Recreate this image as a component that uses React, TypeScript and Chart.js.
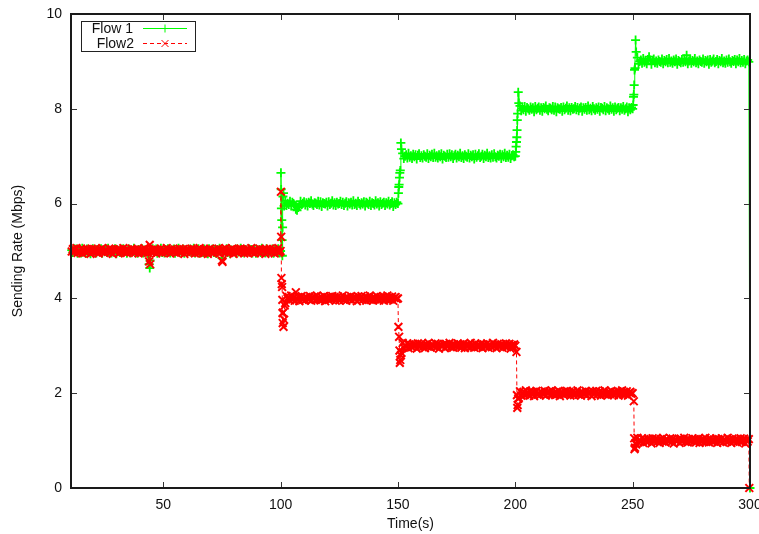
import React, { useEffect, useRef } from "react";
import { Chart, registerables } from "chart.js";
Chart.register(...registerables);

const FONT = "'Liberation Sans', Arial, Helvetica, sans-serif";
const X_MIN = 10.7;
const X_MAX = 300;
const xTickValues = [50, 100, 150, 200, 250, 300];
const yTickValues = [0, 2, 4, 6, 8, 10];
const seriesNames = ["Flow 1", "Flow2"];
const xTitle = "Time(s)";
const yTitle = "Sending Rate (Mbps)";

// Sampling of the rate trace: one sample every 0.5 s, first at t = 11 s
const sampleStart = 11;
const sampleStep = 0.5;

// ---------- Flow 1 (Mbps) ----------
// t = 11.0 .. 99.5
const flow1Seg1 = [
  5.02,4.97,5.05,4.99,5.04,4.95,5.00,5.03,4.96,5.06,
  4.98,5.01,4.95,5.04,4.99,5.03,4.94,5.02,5.05,4.97,
  5.01,4.96,5.03,5.00,4.98,5.05,4.95,5.02,4.99,5.04,
  4.97,5.06,4.98,5.01,4.96,5.03,4.99,5.05,4.94,5.02,
  5.00,4.97,5.04,4.98,5.05,4.99,5.03,4.95,5.01,5.04,
  4.96,5.02,4.99,5.06,4.97,5.01,4.95,5.03,5.00,4.98,
  5.05,4.96,5.02,4.99,5.03,4.94,4.72,4.98,5.01,5.05,
  4.97,5.00,5.04,4.95,5.02,4.99,5.06,4.97,5.01,4.96,
  5.03,4.98,5.05,4.99,4.96,5.02,5.00,5.04,4.95,5.03,
  4.99,5.06,4.97,5.02,4.98,5.04,4.95,5.01,5.03,4.99,
  4.99,5.04,4.97,5.02,5.06,4.96,5.01,4.98,5.05,4.95,
  5.03,5.00,4.97,5.04,4.99,5.02,4.94,5.05,4.98,5.01,
  5.04,4.97,5.02,4.95,5.03,5.00,5.06,4.99,4.85,5.02,
  5.01,4.98,5.05,4.97,5.04,4.94,5.02,5.00,4.99,5.03,
  4.95,5.04,4.98,5.01,5.06,4.97,5.02,4.96,5.03,4.99,
  5.00,5.05,4.98,5.03,4.96,5.01,5.04,4.95,5.02,4.99,
  5.03,4.97,5.06,4.98,5.01,4.96,5.05,5.00,4.97,5.02,
  4.99,5.04,4.95,5.03,5.01,4.98,5.05,4.96,
];
// t = 100.0 .. 149.5
const flow1Seg2 = [
  5.00,5.65,6.15,5.95,6.06,5.96,6.01,5.98,6.05,5.95,
  6.03,6.00,5.97,5.88,5.86,5.92,5.94,6.05,5.98,6.01,
  6.04,5.97,6.02,5.95,6.03,6.00,6.06,5.99,5.96,6.02,
  6.01,5.98,6.05,5.97,6.04,5.94,6.02,6.00,5.99,6.03,
  5.95,6.04,5.98,6.01,6.06,5.97,6.02,5.96,6.03,5.99,
  6.00,6.05,5.98,6.03,5.96,6.01,6.04,5.95,6.02,5.99,
  6.03,5.97,6.06,5.98,6.01,5.96,6.05,6.00,5.97,6.02,
  5.99,6.04,5.95,6.03,6.01,5.98,6.05,5.96,6.02,6.00,
  5.97,6.06,5.99,6.02,5.95,6.04,5.98,6.01,6.03,5.96,
  6.02,5.99,6.05,5.97,6.00,6.04,5.94,6.02,5.98,6.03,
];
// t = 150.0 .. 199.5
const flow1Seg3 = [
  6.00,6.40,6.70,7.15,7.06,6.95,7.00,7.03,6.96,7.06,
  6.98,7.01,6.95,7.04,6.99,7.03,6.94,7.02,7.05,6.97,
  7.01,6.96,7.03,7.00,6.98,7.05,6.95,7.02,6.99,7.04,
  6.97,7.06,6.98,7.01,6.96,7.03,6.99,7.05,6.94,7.02,
  7.00,6.97,7.04,6.98,7.05,6.99,7.03,6.95,7.01,7.04,
  6.96,7.02,6.99,7.06,6.97,7.01,6.95,7.03,7.00,6.98,
  7.05,6.96,7.02,6.99,7.03,6.94,7.04,6.98,7.01,7.05,
  6.97,7.00,7.04,6.95,7.02,6.99,7.06,6.97,7.01,6.96,
  7.03,6.98,7.05,6.99,6.96,7.02,7.00,7.04,6.95,7.03,
  6.99,7.06,6.97,7.02,6.98,7.04,6.95,7.01,7.03,6.99,
];
// t = 200.0 .. 249.5
const flow1Seg4 = [
  7.00,7.30,7.90,8.12,8.06,7.96,8.01,7.98,8.05,7.95,
  8.03,8.00,7.97,8.04,7.99,8.02,7.94,8.05,7.98,8.01,
  8.04,7.97,8.02,7.95,8.03,8.00,8.06,7.99,7.96,8.02,
  8.01,7.98,8.05,7.97,8.04,7.94,8.02,8.00,7.99,8.03,
  7.95,8.04,7.98,8.01,8.06,7.97,8.02,7.96,8.03,7.99,
  8.00,8.05,7.98,8.03,7.96,8.01,8.04,7.95,8.02,7.99,
  8.03,7.97,8.06,7.98,8.01,7.96,8.05,8.00,7.97,8.02,
  7.99,8.04,7.95,8.03,8.01,7.98,8.05,7.96,8.02,8.00,
  7.97,8.06,7.99,8.02,7.95,8.04,7.98,8.01,8.03,7.96,
  8.02,7.99,8.05,7.97,8.00,8.04,7.94,8.02,7.98,8.03,
];
// t = 250.0 .. 299.5
const flow1Seg5 = [
  8.00,8.30,8.86,9.20,9.08,8.95,9.00,9.03,8.96,9.06,
  8.98,9.01,8.95,9.04,9.10,9.03,8.94,9.02,9.05,8.97,
  9.01,8.96,9.03,9.00,8.98,9.05,8.95,9.02,8.99,9.04,
  8.97,9.06,8.98,9.01,8.96,9.03,8.99,9.05,8.94,9.02,
  9.00,8.97,9.04,8.98,9.05,8.99,9.13,8.95,9.01,9.04,
  8.96,9.02,8.99,9.06,8.97,9.01,8.95,9.03,9.00,8.98,
  9.05,8.96,9.02,8.99,9.03,8.94,9.04,8.98,9.01,9.05,
  8.97,9.00,9.04,8.95,9.02,8.99,9.06,8.97,9.01,8.96,
  9.03,8.98,9.05,8.99,8.96,9.02,9.00,9.04,8.95,9.03,
  8.99,9.06,8.97,9.02,8.98,9.04,8.95,9.01,9.03,8.99,
];
// extra samples recorded during the transients
const flow1ExtraTimes = [44.25, 44.4,
  100.15, 100.25, 100.35, 100.65, 100.75, 100.85, 101.25,
  150.2, 150.35, 150.65, 150.8, 151.25,
  200.2, 200.35, 200.65, 200.75, 200.85, 201.25,
  250.2, 250.35, 250.65, 250.8, 251.25,
  300];
const flow1ExtraValues = [4.64, 4.80,
  6.65, 6.30, 5.90, 5.23, 4.90, 5.50, 6.22,
  6.22, 6.35, 6.55, 6.65, 7.28,
  7.09, 7.20, 7.40, 7.55, 7.76, 8.35,
  8.08, 8.25, 8.50, 8.82, 9.45,
  0.00];

// ---------- Flow 2 (Mbps) ----------
const flow2Seg1 = [
  4.99,5.04,4.97,5.02,5.06,4.96,5.01,4.98,5.05,4.95,
  5.03,5.00,4.97,5.04,4.99,5.02,4.94,5.05,4.98,5.01,
  5.04,4.97,5.02,4.95,5.03,5.00,5.06,4.99,4.96,5.02,
  5.01,4.98,5.05,4.97,5.04,4.94,5.02,5.00,4.99,5.03,
  4.95,5.04,4.98,5.01,5.06,4.97,5.02,4.96,5.03,4.99,
  5.00,5.05,4.98,5.03,4.96,5.01,5.04,4.95,5.02,4.99,
  5.03,4.97,5.06,4.98,5.01,4.96,4.78,5.00,4.97,5.02,
  4.99,5.04,4.95,5.03,5.01,4.98,5.05,4.96,5.02,5.00,
  4.97,5.06,4.99,5.02,4.95,5.04,4.98,5.01,5.03,4.96,
  5.02,4.99,5.05,4.97,5.00,5.04,4.94,5.02,4.98,5.03,
  5.02,4.97,5.05,4.99,5.04,4.95,5.00,5.03,4.96,5.06,
  4.98,5.01,4.95,5.04,4.99,5.03,4.94,5.02,5.05,4.97,
  5.01,4.96,5.03,5.00,4.98,5.05,4.95,5.02,4.80,5.04,
  4.97,5.06,4.98,5.01,4.96,5.03,4.99,5.05,4.94,5.02,
  5.00,4.97,5.04,4.98,5.05,4.99,5.03,4.95,5.01,5.04,
  4.96,5.02,4.99,5.06,4.97,5.01,4.95,5.03,5.00,4.98,
  5.05,4.96,5.02,4.99,5.03,4.94,5.04,4.98,5.01,5.05,
  4.97,5.00,5.04,4.95,5.02,4.99,5.06,4.97,
];
const flow2Seg2 = [
  5.00,4.30,3.70,3.55,3.90,4.05,4.00,4.03,3.96,4.06,
  3.98,4.01,3.95,4.13,3.99,4.03,3.94,4.02,4.05,3.97,
  4.01,3.96,4.03,4.00,3.98,4.05,3.95,4.02,3.99,4.04,
  3.97,4.06,3.98,4.01,3.96,4.03,3.99,4.05,3.94,4.02,
  4.00,3.97,4.04,3.98,4.05,3.99,4.03,3.95,4.01,4.04,
  3.96,4.02,3.99,4.06,3.97,4.01,3.95,4.03,4.00,3.98,
  4.05,3.96,4.02,3.99,4.03,3.94,4.04,3.98,4.01,4.05,
  3.97,4.00,4.04,3.95,4.02,3.99,4.06,3.97,4.01,3.96,
  4.03,3.98,4.05,3.99,3.96,4.02,4.00,4.04,3.95,4.03,
  3.99,4.06,3.97,4.02,3.98,4.04,3.95,4.01,4.03,3.99,
];
const flow2Seg3 = [
  4.00,3.19,2.70,2.85,3.06,2.96,3.01,2.98,3.05,2.95,
  3.03,3.00,2.97,3.04,2.99,3.02,2.94,3.05,2.98,3.01,
  3.04,2.97,3.02,2.95,3.03,3.00,3.06,2.99,2.96,3.02,
  3.01,2.98,3.05,2.97,3.04,2.94,3.02,3.00,2.99,3.03,
  2.95,3.04,2.98,3.01,3.06,2.97,3.02,2.96,3.03,2.99,
  3.00,3.05,2.98,3.03,2.96,3.01,3.04,2.95,3.02,2.99,
  3.03,2.97,3.06,2.98,3.01,2.96,3.05,3.00,2.97,3.02,
  2.99,3.04,2.95,3.03,3.01,2.98,3.05,2.96,3.02,3.00,
  2.97,3.06,2.99,3.02,2.95,3.04,2.98,3.01,3.03,2.96,
  3.02,2.99,3.05,2.97,3.00,3.04,2.94,3.02,2.98,3.03,
];
const flow2Seg4 = [
  3.00,2.87,1.75,1.90,2.04,1.95,2.00,2.03,1.96,2.06,
  1.98,2.01,1.95,2.04,1.99,2.03,1.94,2.02,2.05,1.97,
  2.01,1.96,2.03,2.00,1.98,2.05,1.95,2.02,1.99,2.04,
  1.97,2.06,1.98,2.01,1.96,2.03,1.99,2.05,1.94,2.02,
  2.00,1.97,2.04,1.98,2.05,1.99,2.03,1.95,2.01,2.04,
  1.96,2.02,1.99,2.06,1.97,2.01,1.95,2.03,2.00,1.98,
  2.05,1.96,2.02,1.99,2.03,1.94,2.04,1.98,2.01,2.05,
  1.97,2.00,2.04,1.95,2.02,1.99,2.06,1.97,2.01,1.96,
  2.03,1.98,2.05,1.99,1.96,2.02,2.00,2.04,1.95,2.03,
  1.99,2.06,1.97,2.02,1.98,2.04,1.95,2.01,2.03,1.99,
];
const flow2Seg5 = [
  2.00,1.83,0.85,0.92,1.06,0.96,1.01,0.98,1.05,0.95,
  1.03,1.00,0.97,1.04,0.99,1.02,0.94,1.05,0.98,1.01,
  1.04,0.97,1.02,0.95,1.03,1.00,1.06,0.99,0.96,1.02,
  1.01,0.98,1.05,0.97,1.04,0.94,1.02,1.00,0.99,1.03,
  0.95,1.04,0.98,1.01,1.06,0.97,1.02,0.96,1.03,0.99,
  1.00,1.05,0.98,1.03,0.96,1.01,1.04,0.95,1.02,0.99,
  1.03,0.97,1.06,0.98,1.01,0.96,1.05,1.00,0.97,1.02,
  0.99,1.04,0.95,1.03,1.01,0.98,1.05,0.96,1.02,1.00,
  0.97,1.06,0.99,1.02,0.95,1.04,0.98,1.01,1.03,0.96,
  1.02,0.99,1.05,0.97,1.00,1.04,0.94,1.02,0.98,1.03,
];
const flow2ExtraTimes = [44.25, 44.4, 75.25,
  100.15, 100.25, 100.35, 100.65, 100.75, 100.85, 100.9, 101.25, 101.75,
  150.2, 150.65, 150.8, 151.25,
  200.7, 200.85, 201.25,
  250.65, 250.8, 251.25,
  299.7];
const flow2ExtraValues = [5.13, 4.72, 4.77,
  6.25, 5.30, 4.43, 4.24, 3.97, 3.69, 3.48, 3.40, 3.85,
  3.40, 2.90, 2.64, 2.80,
  1.96, 1.69, 1.88,
  1.05, 0.82, 0.95,
  0.00];

const GREEN = "#00ff00";
const RED = "#ff0000";

function buildPoints(segments: number[][], extraT: number[], extraV: number[]) {
  const grid = ([] as number[]).concat(...segments);
  const pts = grid.map((v, i) => ({ x: sampleStart + i * sampleStep, y: v }));
  extraT.forEach((t, i) => pts.push({ x: t, y: extraV[i] }));
  pts.sort((a, b) => a.x - b.x);
  return pts;
}

function drawPlus(ctx: CanvasRenderingContext2D, x: number, y: number, r: number) {
  ctx.beginPath();
  ctx.moveTo(x - r, y); ctx.lineTo(x + r, y);
  ctx.moveTo(x, y - r); ctx.lineTo(x, y + r);
  ctx.stroke();
}
function drawX(ctx: CanvasRenderingContext2D, x: number, y: number, r: number) {
  ctx.beginPath();
  ctx.moveTo(x - r, y - r); ctx.lineTo(x + r, y + r);
  ctx.moveTo(x - r, y + r); ctx.lineTo(x + r, y - r);
  ctx.stroke();
}

const framePlugin = {
  id: "gnuplotFrame",
  afterDraw(chart: any) {
    const { ctx, chartArea } = chart;
    const { left, right, top, bottom } = chartArea;
    const xs = chart.scales.x;
    const ys = chart.scales.y;
    ctx.save();
    ctx.strokeStyle = "#333";
    ctx.lineWidth = 1;
    const tl = 6;
    ctx.beginPath();
    xTickValues.forEach((v) => {
      const px = Math.round(xs.getPixelForValue(v)) + 0.5;
      ctx.moveTo(px, bottom); ctx.lineTo(px, bottom - tl);
      ctx.moveTo(px, top); ctx.lineTo(px, top + tl);
    });
    yTickValues.forEach((v) => {
      const py = Math.round(ys.getPixelForValue(v)) + 0.5;
      ctx.moveTo(left, py); ctx.lineTo(left + tl, py);
      ctx.moveTo(right, py); ctx.lineTo(right - tl, py);
    });
    ctx.stroke();
    ctx.strokeStyle = "#1a1a1a";
    ctx.lineWidth = 2;
    ctx.strokeRect(left, top, right - left, bottom - top);

    ctx.fillStyle = "#111";
    ctx.font = `14px ${FONT}`;
    ctx.textAlign = "center";
    ctx.textBaseline = "middle";
    ctx.fillText(xTitle, (left + right) / 2, 524);
    ctx.save();
    ctx.translate(18, (top + bottom) / 2);
    ctx.rotate(-Math.PI / 2);
    ctx.fillText(yTitle, 0, 0);
    ctx.restore();

    const lx = left + 10, ly = top + 7, lw = 114, lh = 30;
    ctx.fillStyle = "#fff";
    ctx.fillRect(lx, ly, lw, lh);
    ctx.strokeStyle = "#222";
    ctx.lineWidth = 1;
    ctx.strokeRect(lx + 0.5, ly + 0.5, lw, lh);
    ctx.fillStyle = "#111";
    ctx.textAlign = "right";
    ctx.fillText(seriesNames[0], lx + 52, ly + 8);
    ctx.fillText(seriesNames[1], lx + 53, ly + 23);
    const sx0 = lx + 62, sx1 = lx + 106, sxm = (sx0 + sx1) / 2;
    ctx.strokeStyle = GREEN;
    ctx.beginPath(); ctx.moveTo(sx0, ly + 7.5); ctx.lineTo(sx1, ly + 7.5); ctx.stroke();
    drawPlus(ctx, sxm, ly + 7.5, 4);
    ctx.strokeStyle = RED;
    ctx.setLineDash([4, 3]);
    ctx.beginPath(); ctx.moveTo(sx0, ly + 22.5); ctx.lineTo(sx1, ly + 22.5); ctx.stroke();
    ctx.setLineDash([]);
    drawX(ctx, sxm, ly + 22.5, 3.5);
    ctx.restore();
  },
};

export default function App() {
  const ref = useRef<HTMLCanvasElement | null>(null);
  useEffect(() => {
    if (!ref.current) return;
    const flow1 = buildPoints([flow1Seg1, flow1Seg2, flow1Seg3, flow1Seg4, flow1Seg5], flow1ExtraTimes, flow1ExtraValues);
    const flow2 = buildPoints([flow2Seg1, flow2Seg2, flow2Seg3, flow2Seg4, flow2Seg5], flow2ExtraTimes, flow2ExtraValues);
    const chart = new Chart(ref.current, {
      type: "line",
      data: {
        datasets: [
          {
            label: seriesNames[1],
            data: flow2,
            order: 0,
            borderColor: RED,
            borderWidth: 1,
            borderDash: [4, 3],
            pointStyle: "crossRot",
            pointRadius: 5.5,
            pointBorderColor: RED,
            pointBorderWidth: 2,
            tension: 0,
            fill: false,
            clip: false as any,
          },
          {
            label: seriesNames[0],
            data: flow1,
            order: 1,
            borderColor: GREEN,
            borderWidth: 1,
            pointStyle: "cross",
            pointRadius: 4.5,
            pointBorderColor: GREEN,
            pointBorderWidth: 1.8,
            tension: 0,
            fill: false,
            clip: false as any,
          },
        ],
      },
      options: {
        animation: false,
        responsive: false,
        maintainAspectRatio: false,
        devicePixelRatio: 1,
        layout: { padding: { top: 14, right: 9, left: 0, bottom: 0 } },
        plugins: { legend: { display: false }, tooltip: { enabled: false } },
        events: [],
        scales: {
          x: {
            type: "linear",
            min: X_MIN,
            max: X_MAX,
            afterBuildTicks: (s: any) => { s.ticks = xTickValues.map((v) => ({ value: v })); },
            afterFit: (s: any) => { s.height = 46; s.paddingLeft = 0; s.paddingRight = 0; },
            grid: { display: false, drawTicks: false },
            border: { display: false },
            ticks: { padding: 9, color: "#111", font: { family: FONT, size: 14 }, maxRotation: 0, autoSkip: false },
          },
          y: {
            type: "linear",
            min: 0,
            max: 10,
            afterBuildTicks: (s: any) => { s.ticks = yTickValues.map((v) => ({ value: v })); },
            afterFit: (s: any) => { s.width = 71; s.paddingTop = 0; s.paddingBottom = 0; },
            grid: { display: false, drawTicks: false },
            border: { display: false },
            ticks: { padding: 9, color: "#111", font: { family: FONT, size: 14 } },
          },
        },
      },
      plugins: [framePlugin],
    });
    return () => chart.destroy();
  }, []);
  return (
    <div style={{ position: "absolute", left: 0, top: 0, width: 759, height: 534, background: "#fff" }}>
      <canvas ref={ref} width={759} height={534} style={{ display: "block" }} />
    </div>
  );
}
